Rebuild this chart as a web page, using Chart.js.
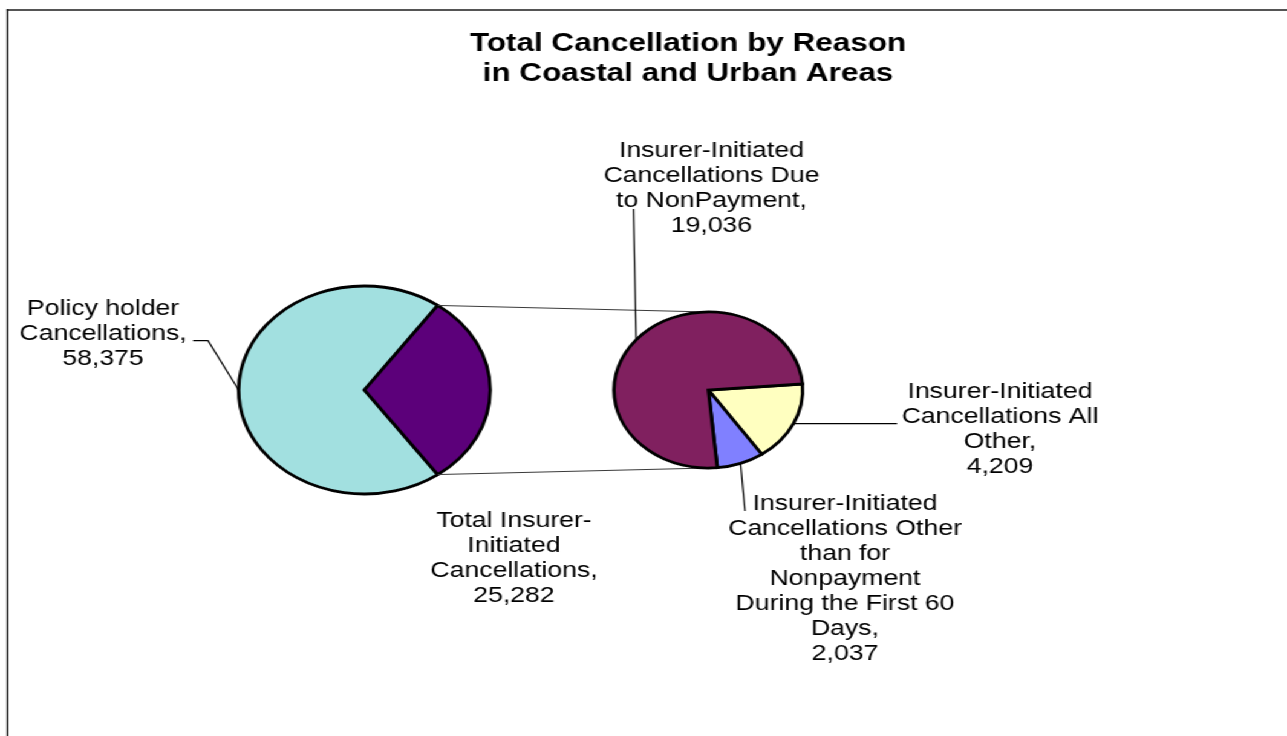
<!DOCTYPE html>
<html><head><meta charset="utf-8">
<script src="https://cdn.jsdelivr.net/npm/chart.js@4.4.1/dist/chart.umd.min.js"></script>
<style>
html,body{margin:0;padding:0;background:#fff;overflow:hidden;}
#wrap{position:absolute;left:0;top:0;width:1064px;height:736px;transform:scaleX(1.2096);transform-origin:0 0;}
#wrap canvas{position:absolute;left:0;top:0;}
</style></head><body>
<div id="wrap"><canvas id="mainPie" width="1064" height="736"></canvas><canvas id="subPie" width="1064" height="736"></canvas></div>
<script>
const titleLines = ['Total Cancellation by Reason', 'in Coastal and Urban Areas'];

const mainCategories = ['Policy holder Cancellations', 'Total Insurer-Initiated Cancellations'];
const mainValues = [58375, 25282];
const mainLabelLines = [['Policy holder', 'Cancellations,'], ['Total Insurer-', 'Initiated', 'Cancellations,']];

const subCategories = [
  'Insurer-Initiated Cancellations All Other',
  'Insurer-Initiated Cancellations Other than for Nonpayment During the First 60 Days',
  'Insurer-Initiated Cancellations Due to NonPayment'
];
const subValues = [4209, 2037, 19036];
const subLabelLines = [
  ['Insurer-Initiated', 'Cancellations All', 'Other,'],
  ['Insurer-Initiated', 'Cancellations Other', 'than for', 'Nonpayment', 'During the First 60', 'Days,'],
  ['Insurer-Initiated', 'Cancellations Due', 'to NonPayment,']
];

const mainColors = ['#A2E0E0', '#5C007A'];
const subColors = ['#FFFFC0', '#8080FF', '#80205F'];

const FONT = '"Liberation Sans", Arial, Helvetica, sans-serif';
const fmt = v => v.toLocaleString('en-US');
const mainTotal = mainValues.reduce((a, b) => a + b, 0);

const chartA = new Chart(document.getElementById('mainPie'), {
  type: 'pie',
  data: { labels: mainCategories, datasets: [{ data: mainValues, backgroundColor: mainColors, borderColor: '#000', borderWidth: 2.8, borderJoinStyle: 'miter' }] },
  options: {
    responsive: false, animation: false, events: [],
    radius: 104,
    rotation: 90 + 180 * mainValues[1] / mainTotal,
    layout: { padding: { left: 0, right: 461.4, top: 44, bottom: 0 } },
    plugins: { legend: { display: false }, tooltip: { enabled: false }, title: { display: false } }
  }
});

function edge(arc, ang) {
  return [arc.x + arc.outerRadius * Math.cos(ang), arc.y + arc.outerRadius * Math.sin(ang)];
}
function mid(arc) { return edge(arc, (arc.startAngle + arc.endAngle) / 2); }

function drawBlock(ctx, lines, cx, y0, lh) {
  lines.forEach((t, i) => ctx.fillText(t, cx, y0 + i * lh));
}

const decor = {
  id: 'decor',
  beforeDatasetsDraw(chart) {
    const ctx = chart.ctx;
    const a = chartA.getDatasetMeta(0).data;
    const b = chart.getDatasetMeta(0).data;
    const p = a[1];
    const rb = b[0];
    ctx.save();
    // connector lines between the pies
    ctx.strokeStyle = '#3a3a3a';
    ctx.lineWidth = 1;
    ctx.beginPath();
    let s = edge(p, p.startAngle); ctx.moveTo(s[0], s[1]); ctx.lineTo(rb.x, rb.y - rb.outerRadius);
    s = edge(p, p.endAngle); ctx.moveTo(s[0], s[1]); ctx.lineTo(rb.x, rb.y + rb.outerRadius);
    ctx.stroke();
    // leader lines
    ctx.strokeStyle = '#000';
    ctx.lineWidth = 1.2;
    ctx.beginPath();
    let m = mid(a[0]); ctx.moveTo(m[0], m[1]); ctx.lineTo(172.0, 340.7); ctx.lineTo(159.6, 340.7);
    m = mid(b[0]); ctx.moveTo(m[0], m[1]); ctx.lineTo(741.6, m[1]);
    m = mid(b[1]); ctx.moveTo(m[0], m[1]); ctx.lineTo(615.9, 511);
    m = mid(b[2]); ctx.moveTo(m[0], m[1]); ctx.lineTo(523.7, 209);
    ctx.stroke();
    ctx.restore();
  },
  afterDraw(chart) {
    const ctx = chart.ctx;
    ctx.save();
    // frame
    ctx.strokeStyle = '#555';
    ctx.lineWidth = 2;
    ctx.beginPath(); ctx.moveTo(5.8, 10); ctx.lineTo(1064, 10); ctx.stroke();
    ctx.strokeStyle = '#000';
    ctx.lineWidth = 1.3;
    ctx.beginPath(); ctx.moveTo(6.3, 9); ctx.lineTo(6.3, 736); ctx.stroke();
    // title
    ctx.fillStyle = '#000';
    ctx.textAlign = 'center';
    ctx.textBaseline = 'alphabetic';
    ctx.font = 'bold 26px ' + FONT;
    ctx.fillText(titleLines[0], 568.8, 51);
    ctx.fillText(titleLines[1], 568.8, 80.5);
    // data labels
    ctx.font = '22px ' + FONT;
    const LH = 25;
    drawBlock(ctx, mainLabelLines[0].concat([fmt(mainValues[0])]), 85.2, 315, LH);
    drawBlock(ctx, mainLabelLines[1].concat([fmt(mainValues[1])]), 424.9, 527, LH);
    drawBlock(ctx, subLabelLines[0].concat([fmt(subValues[0])]), 826.7, 397.5, LH);
    drawBlock(ctx, subLabelLines[1].concat([fmt(subValues[1])]), 698.6, 510, LH);
    drawBlock(ctx, subLabelLines[2].concat([fmt(subValues[2])]), 588.2, 157, LH);
    ctx.restore();
  }
};

const chartB = new Chart(document.getElementById('subPie'), {
  type: 'pie',
  data: { labels: subCategories, datasets: [{ data: subValues, backgroundColor: subColors, borderColor: '#000', borderWidth: 2.8, borderJoinStyle: 'miter' }] },
  options: {
    responsive: false, animation: false, events: [],
    radius: 78,
    rotation: 85.6,
    layout: { padding: { left: 107.2, right: 0, top: 44, bottom: 0 } },
    plugins: { legend: { display: false }, tooltip: { enabled: false }, title: { display: false } }
  },
  plugins: [decor]
});
</script>
</body></html>
